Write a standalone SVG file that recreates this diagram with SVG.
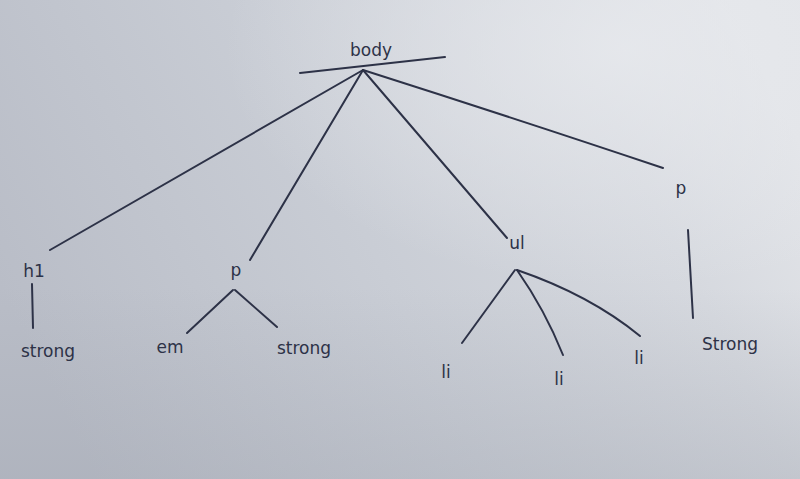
<svg xmlns="http://www.w3.org/2000/svg" width="800" height="479" viewBox="0 0 800 479">
  <defs>
    <linearGradient id="paper" x1="0" y1="0.6" x2="1" y2="0.3">
      <stop offset="0" stop-color="#b9bdc7"/>
      <stop offset="0.45" stop-color="#c9cdd5"/>
      <stop offset="0.8" stop-color="#d6d9df"/>
      <stop offset="1" stop-color="#e2e4e8"/>
    </linearGradient>
    <radialGradient id="glow" cx="0.78" cy="0.1" r="0.5">
      <stop offset="0" stop-color="#e8eaee" stop-opacity="0.8"/>
      <stop offset="1" stop-color="#e8eaee" stop-opacity="0"/>
    </radialGradient>
    <linearGradient id="shade" x1="0" y1="0" x2="0" y2="1">
      <stop offset="0.6" stop-color="#9ea3ae" stop-opacity="0"/>
      <stop offset="1" stop-color="#9ea3ae" stop-opacity="0.35"/>
    </linearGradient>
  </defs>
  <style>
    .ink { stroke: #2d3247; stroke-width: 2; fill: none; stroke-linecap: round; }
    .lbl { font-family: "DejaVu Sans", "Liberation Sans", sans-serif; font-size: 17px; fill: #2d3247; }
  </style>

  <!-- paper -->
  <rect width="800" height="479" fill="url(#paper)"/>
  <rect width="800" height="479" fill="url(#glow)"/>
  <rect width="800" height="479" fill="url(#shade)"/>

  <!-- connectors -->
  <g id="connectors" class="ink">
    <line x1="300" y1="73" x2="445" y2="57"/>
    <line x1="363" y1="70" x2="50" y2="250"/>
    <line x1="363" y1="70" x2="250" y2="260"/>
    <line x1="363" y1="70" x2="507" y2="238"/>
    <path d="M363 70 Q520 120 663 168"/>
    <line x1="32" y1="284" x2="33" y2="328"/>
    <line x1="233" y1="290" x2="187" y2="333"/>
    <line x1="235" y1="290" x2="277" y2="327"/>
    <line x1="515" y1="270" x2="462" y2="343"/>
    <path d="M517 270 Q545 310 563 355"/>
    <path d="M517 270 Q590 295 640 336"/>
    <line x1="688" y1="230" x2="693" y2="318"/>
  </g>

  <!-- nodes -->
  <g id="n-body"><text class="lbl" x="371" y="56" text-anchor="middle">body</text></g>
  <g id="n-h1"><text class="lbl" x="34" y="277" text-anchor="middle">h1</text></g>
  <g id="n-strong1"><text class="lbl" x="48" y="357" text-anchor="middle">strong</text></g>
  <g id="n-p1"><text class="lbl" x="236" y="276" text-anchor="middle">p</text></g>
  <g id="n-em"><text class="lbl" x="170" y="353" text-anchor="middle">em</text></g>
  <g id="n-strong2"><text class="lbl" x="304" y="354" text-anchor="middle">strong</text></g>
  <g id="n-ul"><text class="lbl" x="517" y="249" text-anchor="middle">ul</text></g>
  <g id="n-li1"><text class="lbl" x="446" y="378" text-anchor="middle">li</text></g>
  <g id="n-li2"><text class="lbl" x="559" y="385" text-anchor="middle">li</text></g>
  <g id="n-li3"><text class="lbl" x="639" y="364" text-anchor="middle">li</text></g>
  <g id="n-p2"><text class="lbl" x="681" y="194" text-anchor="middle">p</text></g>
  <g id="n-strong3"><text class="lbl" x="730" y="350" text-anchor="middle">Strong</text></g>
</svg>
